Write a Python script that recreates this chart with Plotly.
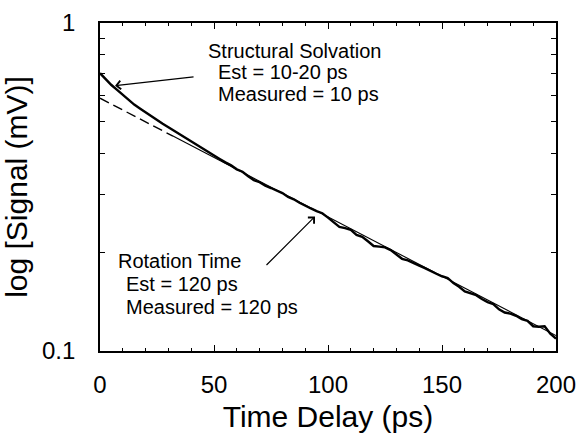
import plotly.graph_objects as go

# Measured signal
time_ps = [0, 2.5, 5, 7.5, 10, 12.5, 15, 17.5, 20, 22.5, 25, 27.5, 30, 32.5, 35, 37.5,
           40, 42.5, 45, 47.5, 50, 52.5, 55, 57.5, 60, 62.5, 65, 67.5, 70, 72.5, 75, 77.5,
           80, 82.5, 85, 87.5, 90, 92.5, 95, 97.5, 100, 102.5, 105, 107.5, 110, 112.5, 115,
           117.5, 120, 122.5, 125, 127.5, 130, 132.5, 135, 137.5, 140, 142.5, 145, 147.5,
           150, 152.5, 155, 157.5, 160, 162.5, 165, 167.5, 170, 172.5, 175, 177.5, 180,
           182.5, 185, 187.5, 190, 192.5, 195, 197.5, 200]
signal_mv = [0.703, 0.672, 0.647, 0.625, 0.603, 0.582, 0.564, 0.549, 0.534, 0.519, 0.507,
             0.493, 0.481, 0.469, 0.458, 0.447, 0.435, 0.426, 0.414, 0.404, 0.394, 0.385,
             0.376, 0.368, 0.358, 0.352, 0.341, 0.332, 0.327, 0.319, 0.314, 0.308, 0.303,
             0.295, 0.290, 0.283, 0.277, 0.272, 0.267, 0.263, 0.255, 0.246, 0.239, 0.237,
             0.234, 0.226, 0.223, 0.216, 0.209, 0.208, 0.207, 0.203, 0.197, 0.191, 0.189,
             0.185, 0.182, 0.179, 0.175, 0.172, 0.169, 0.167, 0.161, 0.157, 0.152, 0.150,
             0.148, 0.144, 0.141, 0.139, 0.134, 0.131, 0.130, 0.128, 0.125, 0.1236, 0.119,
             0.1186, 0.119, 0.1129, 0.109]

# Single-exponential fit (120 ps): dashed extrapolation then solid
fit_dash_t = [0, 32]
fit_dash_v = [0.590, 0.452]
fit_solid_t = [32, 200]
fit_solid_v = [0.452, 0.1114]

x_ticks = [0, 50, 100, 150, 200]
y_ticks = [0.1, 1]
y_tick_labels = ["0.1", "1"]

FONT = "Liberation Sans, Arial, sans-serif"

fig = go.Figure()
fig.add_trace(go.Scatter(x=fit_dash_t, y=fit_dash_v, mode="lines",
                         line=dict(color="black", width=1.4, dash="10px,5px"),
                         showlegend=False))
fig.add_trace(go.Scatter(x=fit_solid_t, y=fit_solid_v, mode="lines",
                         line=dict(color="black", width=1.1),
                         showlegend=False))
fig.add_trace(go.Scatter(x=time_ps, y=signal_mv, mode="lines",
                         line=dict(color="black", width=2.4),
                         showlegend=False))

ann_font = dict(family=FONT, size=20, color="black")
text_lines = [
    ("Structural Solvation", 0.232, 0.916),
    ("Est = 10-20 ps", 0.254, 0.850),
    ("Measured = 10 ps", 0.254, 0.784),
    ("Rotation Time", 0.035, 0.273),
    ("Est = 120 ps", 0.053, 0.204),
    ("Measured = 120 ps", 0.053, 0.135),
]
for txt, xp, yp in text_lines:
    fig.add_annotation(text=txt, x=xp, y=yp, xref="paper", yref="paper",
                       xanchor="left", yanchor="middle", showarrow=False,
                       font=ann_font)

# arrows (head in data coords, tail offset in pixels)
fig.add_annotation(x=6.6, y=-0.191, xref="x", yref="y", text="", showarrow=True,
                   ax=80, ay=-9, arrowhead=4, arrowsize=1.4, arrowwidth=1.2,
                   arrowcolor="black")
fig.add_annotation(x=94.3, y=-0.59, xref="x", yref="y", text="", showarrow=True,
                   ax=-50, ay=50, arrowhead=4, arrowsize=1.4, arrowwidth=1.2,
                   arrowcolor="black")

fig.update_layout(
    width=578, height=433,
    margin=dict(l=100, r=22, t=23, b=82, autoexpand=False),
    paper_bgcolor="white", plot_bgcolor="white",
    font=dict(family=FONT, color="black"),
    showlegend=False,
)
fig.update_xaxes(
    automargin=False,
    range=[0, 200], tickvals=x_ticks, ticks="inside", ticklen=6, tickwidth=1.2,
    tickcolor="black", showline=True, linecolor="black", linewidth=1.6,
    mirror="allticks", showgrid=False, zeroline=False,
    tickfont=dict(size=24, family=FONT), ticklabelstandoff=11,
    minor=dict(dtick=10, ticks="inside", ticklen=3, tickcolor="black", tickwidth=1, showgrid=False),
    title=dict(text="Time Delay (ps)", font=dict(size=30, family=FONT), standoff=13),
)
fig.update_yaxes(
    automargin=False,
    type="log", range=[-1, 0], tickvals=y_ticks, ticktext=y_tick_labels,
    ticks="inside", ticklen=6, tickwidth=1.2, tickcolor="black",
    showline=True, linecolor="black", linewidth=1.6, mirror="allticks",
    showgrid=False, zeroline=False,
    tickfont=dict(size=24, family=FONT), ticklabelstandoff=18,
    minor=dict(tickvals=[0.2, 0.3, 0.4, 0.5, 0.6, 0.7, 0.8, 0.9], ticks="inside",
               ticklen=5, tickcolor="black", tickwidth=1, showgrid=False),
    title=dict(text="log [Signal (mV)]", font=dict(size=30, family=FONT), standoff=6),
)

fig.write_html("out.html", config={"displayModeBar": False},
               post_script="document.body.style.margin='0';document.body.style.padding='0';")
